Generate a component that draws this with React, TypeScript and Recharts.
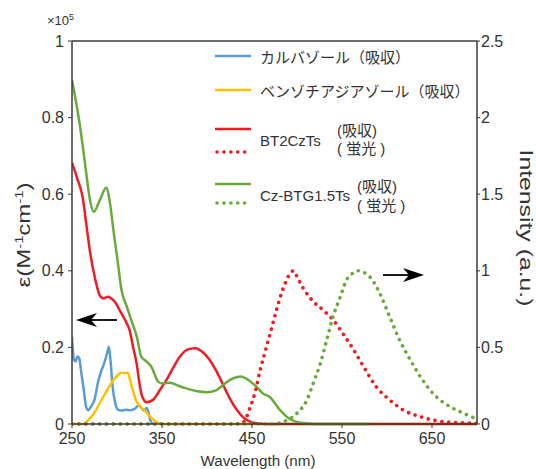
import React from "react"
import { Line, LineChart, ReferenceLine, XAxis, YAxis } from "recharts"

// wavelength (nm) / ε (x10^5) for the absorption curves, intensity (a.u.) for fluorescence
const carbazoleWl = [250, 252, 254, 256, 258, 260, 263, 266, 268, 271, 275, 279, 282, 286, 289, 291, 293, 295, 298, 301, 305, 310, 315, 320, 324, 327, 330, 333, 335, 337, 340]
const carbazoleAbs = [0.228, 0.17, 0.163, 0.176, 0.172, 0.14, 0.09, 0.042, 0.036, 0.045, 0.063, 0.11, 0.135, 0.16, 0.185, 0.202, 0.16, 0.1, 0.055, 0.038, 0.035, 0.037, 0.036, 0.04, 0.048, 0.042, 0.035, 0.042, 0.03, 0.01, 0]

const btdWl = [250, 262, 268, 275, 281, 287, 292, 297, 301, 305, 308, 312, 315, 318, 321, 325, 330, 335, 340, 345, 350, 700]
const btdAbs = [0, 0, 0.01, 0.03, 0.055, 0.08, 0.1, 0.118, 0.128, 0.134, 0.133, 0.134, 0.11, 0.085, 0.062, 0.048, 0.037, 0.024, 0.012, 0.004, 0, 0]

const bt2WlAbs = [250, 256, 262, 266, 270, 276, 281, 285, 290, 294, 298, 303, 307, 311, 314, 318, 322, 325, 328, 333, 340, 348, 355, 362, 370, 378, 387, 395, 403, 410, 418, 425, 433, 440, 447, 455, 465, 700]
const bt2Abs = [0.682, 0.64, 0.59, 0.52, 0.45, 0.376, 0.335, 0.328, 0.332, 0.327, 0.318, 0.297, 0.28, 0.262, 0.245, 0.2, 0.155, 0.105, 0.072, 0.057, 0.063, 0.09, 0.115, 0.145, 0.176, 0.194, 0.198, 0.188, 0.167, 0.14, 0.102, 0.068, 0.037, 0.018, 0.007, 0.002, 0, 0]

const bt2WlFl = [250, 430, 440, 448, 454, 459, 465, 472, 477, 485, 491, 496, 501, 507, 518, 529, 540, 551, 563, 574, 588, 603, 618, 637, 663, 700]
const bt2Fl = [0, 0, 0.01, 0.11, 0.22, 0.35, 0.48, 0.63, 0.74, 0.89, 0.97, 1.0, 0.95, 0.886, 0.8, 0.744, 0.68, 0.59, 0.483, 0.374, 0.243, 0.157, 0.091, 0.048, 0.015, 0.005]

const czWlAbs = [250, 259, 265, 270, 274, 281, 288, 292, 296, 301, 305, 311, 316, 322, 327, 333, 338, 346, 350, 359, 368, 377, 388, 400, 410, 418, 427, 437, 446, 455, 462, 470, 481, 492, 505, 520, 580]
const czAbs = [0.898, 0.776, 0.67, 0.585, 0.554, 0.585, 0.617, 0.58, 0.506, 0.42, 0.35, 0.306, 0.27, 0.228, 0.176, 0.163, 0.15, 0.11, 0.106, 0.108, 0.1, 0.093, 0.086, 0.083, 0.088, 0.102, 0.117, 0.124, 0.115, 0.097, 0.08, 0.07, 0.037, 0.013, 0.003, 0, 0]

const czWlFl = [250, 470, 485, 500, 511, 518, 526, 533, 540, 548, 555, 562, 568, 574, 581, 592, 603, 614, 626, 637, 651, 670, 685, 698]
const czFl = [0, 0, 0.015, 0.07, 0.157, 0.266, 0.396, 0.548, 0.7, 0.83, 0.94, 0.985, 1.0, 0.99, 0.96, 0.853, 0.7, 0.548, 0.418, 0.309, 0.2, 0.113, 0.07, 0.037]

const xTicks = [250, 350, 450, 550, 650]
const leftTicks = [0, 0.2, 0.4, 0.6, 0.8, 1]
const rightTicks = [0, 0.5, 1, 1.5, 2, 2.5]

const toRows = (wl: number[], v: number[]) => wl.map((w, i) => ({ wl: w, v: v[i] }))

const BLUE = "#5b9bd5"
const YELLOW = "#ffc000"
const RED = "#f01c24"
const GREEN = "#6aaa3c"
const AXIS = "#3d3935"
const TEXT = "#333333"
const LATIN = "'Liberation Sans', Arial, 'Noto Sans CJK JP', sans-serif"
const DOTS = "0.1 6.8"

const tickStyle = { fill: TEXT, fontSize: 16, fontFamily: LATIN }

function Overlay() {
  const legendText = { fontSize: 15, fontFamily: LATIN, fill: TEXT, dominantBaseline: "central" as const }
  return (
    <svg width={536} height={469} style={{ position: "absolute", left: 0, top: 0, pointerEvents: "none" }}>
      {/* legend */}
      <line x1={215} x2={251} y1={56} y2={56} stroke={BLUE} strokeWidth={2.5} />
      <text x={260} y={57} {...legendText}>カルバゾール（吸収）</text>
      <line x1={215} x2={251} y1={90} y2={90} stroke={YELLOW} strokeWidth={2.5} />
      <text x={260} y={91} {...legendText}>ベンゾチアジアゾール（吸収）</text>

      <line x1={215} x2={251} y1={129} y2={129} stroke={RED} strokeWidth={2.5} />
      <line x1={217} x2={251} y1={152} y2={152} stroke={RED} strokeWidth={3.6} strokeDasharray={DOTS} strokeLinecap="round" />
      <text x={260} y={140} {...legendText}>BT2CzTs</text>
      <text x={337} y={130} {...legendText}>(吸収)</text>
      <text x={337} y={148} {...legendText}>( 蛍光 )</text>

      <line x1={215} x2={251} y1={184} y2={184} stroke={GREEN} strokeWidth={2.5} />
      <line x1={217} x2={251} y1={203} y2={203} stroke={GREEN} strokeWidth={3.6} strokeDasharray={DOTS} strokeLinecap="round" />
      <text x={260} y={195} {...legendText}>Cz-BTG1.5Ts</text>
      <text x={357} y={186} {...legendText}>(吸収)</text>
      <text x={357} y={205} {...legendText}>( 蛍光 )</text>

      {/* arrows */}
      <line x1={117} x2={86} y1={320} y2={320} stroke="#000" strokeWidth={1.8} />
      <path d="M76,320 L97,313 L91,320 L97,327 Z" fill="#000" />
      <line x1={383} x2={413} y1={275} y2={275} stroke="#000" strokeWidth={1.8} />
      <path d="M424,275 L403,268 L409,275 L403,282 Z" fill="#000" />

      {/* axis titles */}
      <text x={47} y={25} fontSize={13} fontFamily={LATIN} fill={TEXT}>
        ×10<tspan dy={-5} fontSize={9}>5</tspan>
      </text>
      <text
        transform="translate(30,235) rotate(-90)"
        textAnchor="middle"
        fontSize={18}
        fontFamily={LATIN}
        fill={TEXT}
        textLength={105}
        lengthAdjust="spacingAndGlyphs"
      >
        ε(M<tspan dy={-7} fontSize={11}>-1</tspan><tspan dy={7}>cm</tspan><tspan dy={-7} fontSize={11}>-1</tspan><tspan dy={7}>)</tspan>
      </text>
      <text
        transform="translate(520,228) rotate(90)"
        textAnchor="middle"
        fontSize={19}
        fontFamily={LATIN}
        fill={TEXT}
        textLength={157}
        lengthAdjust="spacingAndGlyphs"
      >
        Intensity (a.u.)
      </text>
      <text x={258} y={466} textAnchor="middle" fontSize={14} fontFamily={LATIN} fill={TEXT} textLength={115} lengthAdjust="spacingAndGlyphs">
        Wavelength (nm)
      </text>
    </svg>
  )
}

export default function App() {
  return (
    <div style={{ position: "absolute", left: 0, top: 0, width: 536, height: 469, background: "#fff" }}>
      <LineChart width={536} height={469} margin={{ top: 41, right: 19, bottom: 15, left: 32 }}>
        <XAxis
          type="number"
          dataKey="wl"
          domain={[250, 700]}
          ticks={xTicks}
          allowDataOverflow
          height={30}
          tick={tickStyle}
          tickSize={4}
          tickMargin={5}
          axisLine={{ stroke: AXIS, strokeWidth: 1.5 }}
          tickLine={{ stroke: AXIS }}
        />
        <YAxis
          yAxisId="left"
          domain={[0, 1]}
          ticks={leftTicks}
          width={40}
          tick={tickStyle}
          tickSize={4}
          tickMargin={4}
          axisLine={{ stroke: AXIS, strokeWidth: 1.5 }}
          tickLine={{ stroke: AXIS }}
        />
        <YAxis
          yAxisId="right"
          orientation="right"
          domain={[0, 2.5]}
          ticks={rightTicks}
          width={40}
          tick={tickStyle}
          tickSize={3}
          tickMargin={1}
          axisLine={{ stroke: AXIS, strokeWidth: 1.5 }}
          tickLine={{ stroke: AXIS }}
        />
        <ReferenceLine yAxisId="left" y={1} stroke={AXIS} strokeWidth={1.5} />
        <Line yAxisId="left" data={toRows(carbazoleWl, carbazoleAbs)} dataKey="v" type="monotone" stroke={BLUE} strokeWidth={2.5} dot={false} isAnimationActive={false} />
        <Line yAxisId="left" data={toRows(btdWl, btdAbs)} dataKey="v" type="monotone" stroke={YELLOW} strokeWidth={2.5} dot={false} isAnimationActive={false} />
        <Line yAxisId="left" data={toRows(bt2WlAbs, bt2Abs)} dataKey="v" type="monotone" stroke={RED} strokeWidth={2.5} dot={false} isAnimationActive={false} />
        <Line yAxisId="left" data={toRows(czWlAbs, czAbs)} dataKey="v" type="monotone" stroke={GREEN} strokeWidth={2.5} dot={false} isAnimationActive={false} />
        <Line yAxisId="right" data={toRows(bt2WlFl, bt2Fl)} dataKey="v" type="monotone" stroke={RED} strokeWidth={3.6} strokeDasharray={DOTS} strokeLinecap="round" dot={false} isAnimationActive={false} />
        <Line yAxisId="right" data={toRows(czWlFl, czFl)} dataKey="v" type="monotone" stroke={GREEN} strokeWidth={3.6} strokeDasharray={DOTS} strokeLinecap="round" dot={false} isAnimationActive={false} />
      </LineChart>
      <Overlay />
    </div>
  )
}
